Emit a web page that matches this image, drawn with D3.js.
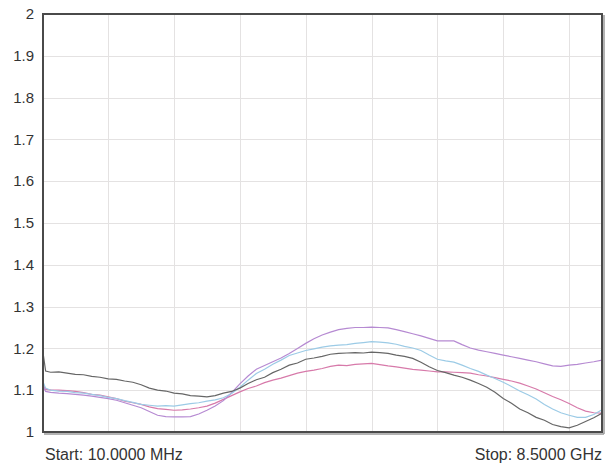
<!DOCTYPE html>
<html><head><meta charset="utf-8">
<script src="https://cdn.jsdelivr.net/npm/d3@7"></script>
<style>body{margin:0;background:#fff}svg{display:block}</style>
</head><body><svg id="c" width="615" height="466"></svg>
<script>
const freqs = [0.01,0.05,
  0.125,0.25,0.375,0.5,0.625,0.75,0.875,1.0,
  1.125,1.25,1.375,1.5,1.625,1.75,1.875,2.0,
  2.125,2.25,2.375,2.5,2.625,2.75,2.875,3.0,
  3.125,3.25,3.375,3.5,3.625,3.75,3.875,4.0,
  4.125,4.25,4.375,4.5,4.625,4.75,4.875,5.0,
  5.125,5.25,5.375,5.5,5.625,5.75,5.875,6.0,
  6.125,6.25,6.375,6.5,6.625,6.75,6.875,7.0,
  7.125,7.25,7.375,7.5,7.625,7.75,7.875,8.0,
  8.125,8.25,8.375,8.5];
const grayVals = [1.190,1.146,
  1.143,1.144,1.141,1.138,1.137,1.133,1.131,1.127,
  1.126,1.122,1.119,1.113,1.105,1.100,1.098,1.093,
  1.091,1.087,1.086,1.084,1.087,1.093,1.097,1.105,
  1.116,1.125,1.131,1.142,1.150,1.160,1.165,1.174,
  1.177,1.181,1.186,1.188,1.189,1.190,1.189,1.191,
  1.190,1.188,1.184,1.181,1.176,1.167,1.156,1.147,
  1.142,1.136,1.131,1.124,1.116,1.107,1.095,1.080,
  1.069,1.055,1.046,1.035,1.028,1.018,1.013,1.010,
  1.016,1.025,1.034,1.045];
const blueVals = [1.120,1.105,
  1.100,1.098,1.097,1.094,1.093,1.090,1.087,1.083,
  1.080,1.075,1.071,1.066,1.064,1.062,1.063,1.062,
  1.065,1.068,1.070,1.074,1.077,1.082,1.092,1.107,
  1.124,1.140,1.150,1.162,1.172,1.183,1.189,1.195,
  1.199,1.203,1.206,1.208,1.209,1.212,1.214,1.216,
  1.215,1.213,1.210,1.205,1.201,1.195,1.184,1.174,
  1.170,1.167,1.160,1.152,1.145,1.136,1.128,1.119,
  1.109,1.098,1.089,1.079,1.066,1.055,1.046,1.040,
  1.035,1.035,1.042,1.053];
const pinkVals = [1.115,1.102,
  1.101,1.100,1.099,1.097,1.094,1.090,1.088,1.084,
  1.080,1.074,1.070,1.066,1.060,1.056,1.054,1.052,
  1.053,1.055,1.058,1.062,1.069,1.078,1.087,1.096,
  1.104,1.110,1.118,1.124,1.129,1.135,1.141,1.145,
  1.148,1.152,1.157,1.160,1.159,1.162,1.163,1.164,
  1.161,1.158,1.156,1.153,1.150,1.148,1.146,1.144,
  1.144,1.143,1.142,1.141,1.137,1.134,1.130,1.126,
  1.122,1.117,1.110,1.103,1.094,1.085,1.077,1.068,
  1.058,1.050,1.046,1.045];
const purpleVals = [1.110,1.097,
  1.095,1.093,1.092,1.090,1.088,1.086,1.083,1.080,
  1.076,1.070,1.064,1.058,1.049,1.040,1.037,1.036,
  1.036,1.037,1.043,1.052,1.062,1.075,1.094,1.115,
  1.134,1.150,1.159,1.168,1.177,1.188,1.200,1.212,
  1.223,1.232,1.239,1.245,1.248,1.250,1.250,1.251,
  1.250,1.249,1.245,1.240,1.235,1.230,1.224,1.218,
  1.218,1.218,1.209,1.201,1.196,1.192,1.188,1.184,
  1.180,1.176,1.172,1.168,1.163,1.158,1.157,1.160,
  1.162,1.165,1.168,1.172];
const yTicks = [1,1.1,1.2,1.3,1.4,1.5,1.6,1.7,1.8,1.9,2];
const yTickLabels = ["1","1.1","1.2","1.3","1.4","1.5","1.6","1.7","1.8","1.9","2"];
const xGrid = [1,2,3,4,5,6,7,8];
const startLabel = "Start: 10.0000 MHz";
const stopLabel = "Stop: 8.5000 GHz";

const L=43,R=602,T=14,B=432;
const x = d3.scaleLinear().domain([0.01,8.5]).range([L,R]);
const y = d3.scaleLinear().domain([1,2]).range([B,T]);
const svg = d3.select("#c");

svg.append("g").selectAll("line").data(yTicks.slice(1,-1)).join("line")
  .attr("x1",L).attr("x2",R).attr("y1",d=>Math.round(y(d))+0.5).attr("y2",d=>Math.round(y(d))+0.5)
  .attr("stroke","#e4e2e2").attr("stroke-width",1);
svg.append("g").selectAll("line").data(xGrid).join("line")
  .attr("y1",T).attr("y2",B).attr("x1",d=>Math.round(x(d))+0.5).attr("x2",d=>Math.round(x(d))+0.5)
  .attr("stroke","#e4e2e2").attr("stroke-width",1);

const series = [
  {v:pinkVals,c:"#d77aaa"},
  {v:purpleVals,c:"#b68ad2"},
  {v:blueVals,c:"#9ccbe6"},
  {v:grayVals,c:"#666666"}
];
const line = d3.line().x((d,i)=>x(freqs[i])).y(d=>y(d));
svg.append("g").selectAll("path").data(series).join("path")
  .attr("d",d=>line(d.v)).attr("fill","none").attr("stroke",d=>d.c).attr("stroke-width",1.2);

// frame
svg.append("rect").attr("x",L).attr("y",T).attr("width",R-L).attr("height",B-T)
  .attr("fill","none").attr("stroke","#4a4a4a").attr("stroke-width",2);
svg.append("line").attr("x1",R+2).attr("x2",R+2).attr("y1",T+1).attr("y2",B+2).attr("stroke","#9a9a9a").attr("stroke-width",1.5);
svg.append("line").attr("x1",L+1).attr("x2",R+2).attr("y1",B+2).attr("y2",B+2).attr("stroke","#9a9a9a").attr("stroke-width",1.5);

svg.append("g").selectAll("text").data(yTicks).join("text")
  .attr("x",34).attr("y",d=>y(d)).attr("dy","0.35em").attr("text-anchor","end")
  .attr("font-family","Liberation Sans, Arial, sans-serif").attr("font-size",15).attr("fill","#333")
  .text((d,i)=>yTickLabels[i]);

svg.append("text").attr("x",45).attr("y",460).attr("font-family","Liberation Sans, Arial, sans-serif")
  .attr("font-size",16).attr("fill","#333").text(startLabel);
svg.append("text").attr("x",602).attr("y",460).attr("text-anchor","end").attr("font-family","Liberation Sans, Arial, sans-serif")
  .attr("font-size",16).attr("fill","#333").text(stopLabel);
</script></body></html>
